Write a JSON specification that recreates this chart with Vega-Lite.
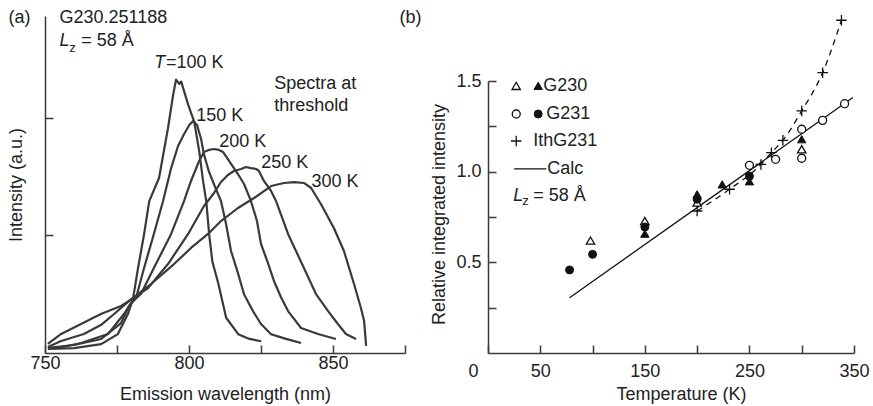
{
  "$schema": "https://vega.github.io/schema/vega-lite/v6.json",
  "background": "white",
  "padding": {"left": 7, "top": 8, "right": 4, "bottom": 4},
  "bounds": "flush",
  "spacing": 83,
  "config": {
    "view": {"stroke": null},
    "font": "Liberation Sans",
    "axis": {
      "grid": false,
      "domainColor": "#3a3a3a",
      "tickColor": "#3a3a3a",
      "domainWidth": 1.5,
      "tickWidth": 1.5,
      "tickSize": -8,
      "labelFont": "Liberation Sans",
      "labelFontSize": 18,
      "labelColor": "#222",
      "labelFlush": false,
      "titleFont": "Liberation Sans",
      "titleFontSize": 18,
      "titleFontWeight": "normal",
      "titleColor": "#222"
    },
    "text": {"font": "Liberation Sans", "fontSize": 18, "color": "#222"}
  },
  "datasets": {
    "spectra": [
      {"T": 100, "wl": 751.0, "I": 0.034}, {"T": 100, "wl": 760.1, "I": 0.042}, {"T": 100, "wl": 769.5, "I": 0.076},
      {"T": 100, "wl": 775.3, "I": 0.161}, {"T": 100, "wl": 778.8, "I": 0.331}, {"T": 100, "wl": 780.6, "I": 0.467},
      {"T": 100, "wl": 782.3, "I": 0.722}, {"T": 100, "wl": 784.4, "I": 1.011}, {"T": 100, "wl": 786.2, "I": 1.292},
      {"T": 100, "wl": 789.6, "I": 1.489}, {"T": 100, "wl": 792.7, "I": 1.913}, {"T": 100, "wl": 794.5, "I": 2.198},
      {"T": 100, "wl": 795.5, "I": 2.326}, {"T": 100, "wl": 796.6, "I": 2.29}, {"T": 100, "wl": 797.3, "I": 2.31},
      {"T": 100, "wl": 799.7, "I": 2.114}, {"T": 100, "wl": 801.8, "I": 1.97}, {"T": 100, "wl": 803.6, "I": 1.71},
      {"T": 100, "wl": 804.9, "I": 1.46}, {"T": 100, "wl": 806.0, "I": 1.29}, {"T": 100, "wl": 807.0, "I": 1.01},
      {"T": 100, "wl": 808.1, "I": 0.78}, {"T": 100, "wl": 810.2, "I": 0.59}, {"T": 100, "wl": 812.9, "I": 0.30},
      {"T": 100, "wl": 817.1, "I": 0.16}, {"T": 100, "wl": 821.0, "I": 0.12}, {"T": 100, "wl": 825.1, "I": 0.10},

      {"T": 150, "wl": 751.0, "I": 0.043}, {"T": 150, "wl": 760.1, "I": 0.068}, {"T": 150, "wl": 769.5, "I": 0.119},
      {"T": 150, "wl": 776.4, "I": 0.255}, {"T": 150, "wl": 779.2, "I": 0.40}, {"T": 150, "wl": 781.6, "I": 0.468},
      {"T": 150, "wl": 784.4, "I": 0.723}, {"T": 150, "wl": 787.8, "I": 1.013}, {"T": 150, "wl": 791.0, "I": 1.294},
      {"T": 150, "wl": 793.8, "I": 1.574}, {"T": 150, "wl": 796.2, "I": 1.762}, {"T": 150, "wl": 798.3, "I": 1.864},
      {"T": 150, "wl": 800.1, "I": 1.94}, {"T": 150, "wl": 801.4, "I": 1.974}, {"T": 150, "wl": 802.8, "I": 1.94},
      {"T": 150, "wl": 804.2, "I": 1.82}, {"T": 150, "wl": 805.2, "I": 1.69}, {"T": 150, "wl": 806.9, "I": 1.545},
      {"T": 150, "wl": 808.7, "I": 1.434}, {"T": 150, "wl": 811.1, "I": 1.294}, {"T": 150, "wl": 812.8, "I": 1.106},
      {"T": 150, "wl": 814.6, "I": 0.868}, {"T": 150, "wl": 817.0, "I": 0.68}, {"T": 150, "wl": 819.1, "I": 0.50},
      {"T": 150, "wl": 822.2, "I": 0.357}, {"T": 150, "wl": 825.0, "I": 0.247}, {"T": 150, "wl": 828.5, "I": 0.16},
      {"T": 150, "wl": 833.7, "I": 0.12}, {"T": 150, "wl": 838.9, "I": 0.085},

      {"T": 200, "wl": 753.1, "I": 0.034}, {"T": 200, "wl": 762.5, "I": 0.085}, {"T": 200, "wl": 771.9, "I": 0.162},
      {"T": 200, "wl": 777.4, "I": 0.332}, {"T": 200, "wl": 779.9, "I": 0.426}, {"T": 200, "wl": 783.3, "I": 0.502},
      {"T": 200, "wl": 787.8, "I": 0.723}, {"T": 200, "wl": 793.8, "I": 1.013}, {"T": 200, "wl": 798.3, "I": 1.294},
      {"T": 200, "wl": 800.7, "I": 1.464}, {"T": 200, "wl": 803.5, "I": 1.634}, {"T": 200, "wl": 805.2, "I": 1.711},
      {"T": 200, "wl": 806.9, "I": 1.728}, {"T": 200, "wl": 808.7, "I": 1.736}, {"T": 200, "wl": 810.4, "I": 1.728},
      {"T": 200, "wl": 811.8, "I": 1.711}, {"T": 200, "wl": 814.6, "I": 1.609}, {"T": 200, "wl": 817.0, "I": 1.523},
      {"T": 200, "wl": 819.1, "I": 1.438}, {"T": 200, "wl": 821.5, "I": 1.294}, {"T": 200, "wl": 823.6, "I": 1.123},
      {"T": 200, "wl": 825.0, "I": 0.928}, {"T": 200, "wl": 827.4, "I": 0.766}, {"T": 200, "wl": 829.5, "I": 0.613},
      {"T": 200, "wl": 831.9, "I": 0.477}, {"T": 200, "wl": 834.4, "I": 0.357}, {"T": 200, "wl": 838.9, "I": 0.213},
      {"T": 200, "wl": 844.8, "I": 0.162}, {"T": 200, "wl": 851.0, "I": 0.119},

      {"T": 250, "wl": 751.0, "I": 0.051}, {"T": 250, "wl": 755.6, "I": 0.102}, {"T": 250, "wl": 763.5, "I": 0.162},
      {"T": 250, "wl": 769.4, "I": 0.238}, {"T": 250, "wl": 774.0, "I": 0.332}, {"T": 250, "wl": 779.2, "I": 0.443},
      {"T": 250, "wl": 785.8, "I": 0.553}, {"T": 250, "wl": 792.7, "I": 0.757}, {"T": 250, "wl": 799.7, "I": 1.013},
      {"T": 250, "wl": 805.2, "I": 1.251}, {"T": 250, "wl": 808.7, "I": 1.362}, {"T": 250, "wl": 811.1, "I": 1.455},
      {"T": 250, "wl": 813.5, "I": 1.515}, {"T": 250, "wl": 815.6, "I": 1.549}, {"T": 250, "wl": 818.1, "I": 1.566},
      {"T": 250, "wl": 819.8, "I": 1.583}, {"T": 250, "wl": 821.5, "I": 1.574}, {"T": 250, "wl": 823.3, "I": 1.566},
      {"T": 250, "wl": 824.3, "I": 1.549}, {"T": 250, "wl": 826.0, "I": 1.464}, {"T": 250, "wl": 828.5, "I": 1.379},
      {"T": 250, "wl": 830.2, "I": 1.294}, {"T": 250, "wl": 834.4, "I": 1.013}, {"T": 250, "wl": 839.9, "I": 0.723},
      {"T": 250, "wl": 844.1, "I": 0.502}, {"T": 250, "wl": 848.3, "I": 0.357}, {"T": 250, "wl": 851.7, "I": 0.247},
      {"T": 250, "wl": 854.5, "I": 0.162}, {"T": 250, "wl": 858.0, "I": 0.119},

      {"T": 300, "wl": 751.0, "I": 0.077}, {"T": 300, "wl": 755.6, "I": 0.162}, {"T": 300, "wl": 762.5, "I": 0.247},
      {"T": 300, "wl": 769.4, "I": 0.332}, {"T": 300, "wl": 776.4, "I": 0.40}, {"T": 300, "wl": 779.2, "I": 0.443},
      {"T": 300, "wl": 786.8, "I": 0.587}, {"T": 300, "wl": 794.8, "I": 0.757}, {"T": 300, "wl": 800.7, "I": 0.894},
      {"T": 300, "wl": 806.6, "I": 1.013}, {"T": 300, "wl": 811.1, "I": 1.123}, {"T": 300, "wl": 817.0, "I": 1.234},
      {"T": 300, "wl": 822.6, "I": 1.319}, {"T": 300, "wl": 828.5, "I": 1.421}, {"T": 300, "wl": 833.0, "I": 1.447},
      {"T": 300, "wl": 836.5, "I": 1.455}, {"T": 300, "wl": 839.9, "I": 1.447}, {"T": 300, "wl": 842.4, "I": 1.404},
      {"T": 300, "wl": 845.8, "I": 1.268}, {"T": 300, "wl": 850.3, "I": 1.064}, {"T": 300, "wl": 853.8, "I": 0.868},
      {"T": 300, "wl": 857.3, "I": 0.587}, {"T": 300, "wl": 859.7, "I": 0.383}, {"T": 300, "wl": 860.8, "I": 0.272},
      {"T": 300, "wl": 861.5, "I": 0.06}
    ],
    "textA": [
      {"kind": "normal", "t": "(a)", "wl": 737.3, "I": 2.851},
      {"kind": "normal", "t": "G230.251188", "wl": 755.0, "I": 2.851},
      {"kind": "italic", "t": "L", "wl": 755.0, "I": 2.655},
      {"kind": "sub", "t": "z", "wl": 758.4, "I": 2.596},
      {"kind": "normal", "t": "= 58 Å", "wl": 762.6, "I": 2.655},
      {"kind": "italic", "t": "T", "wl": 787.9, "I": 2.468},
      {"kind": "normal", "t": "=100 K", "wl": 792.0, "I": 2.468},
      {"kind": "normal", "t": "Spectra at", "wl": 829.6, "I": 2.289},
      {"kind": "normal", "t": "threshold", "wl": 829.6, "I": 2.102},
      {"kind": "normal", "t": "150 K", "wl": 802.5, "I": 2.017},
      {"kind": "normal", "t": "200 K", "wl": 810.5, "I": 1.796},
      {"kind": "normal", "t": "250 K", "wl": 825.1, "I": 1.617},
      {"kind": "normal", "t": "300 K", "wl": 842.5, "I": 1.455}
    ],
    "pts": [
      {"s": "G230o", "T": 98, "v": 0.62}, {"s": "G230o", "T": 150, "v": 0.728}, {"s": "G230o", "T": 200, "v": 0.83}, {"s": "G230o", "T": 300, "v": 1.124},
      {"s": "G230f", "T": 150, "v": 0.658}, {"s": "G230f", "T": 200, "v": 0.875}, {"s": "G230f", "T": 224, "v": 0.93}, {"s": "G230f", "T": 250, "v": 0.947}, {"s": "G230f", "T": 300, "v": 1.179},
      {"s": "G231o", "T": 250, "v": 1.035}, {"s": "G231o", "T": 275, "v": 1.068}, {"s": "G231o", "T": 300, "v": 1.234}, {"s": "G231o", "T": 300, "v": 1.074}, {"s": "G231o", "T": 320, "v": 1.283}, {"s": "G231o", "T": 341, "v": 1.375},
      {"s": "G231f", "T": 78, "v": 0.458}, {"s": "G231f", "T": 100, "v": 0.544}, {"s": "G231f", "T": 150, "v": 0.695}, {"s": "G231f", "T": 200, "v": 0.848}, {"s": "G231f", "T": 250, "v": 0.975},
      {"s": "Ith", "T": 200, "v": 0.783}, {"s": "Ith", "T": 231, "v": 0.903}, {"s": "Ith", "T": 261, "v": 1.04}, {"s": "Ith", "T": 271, "v": 1.105}, {"s": "Ith", "T": 282, "v": 1.173}, {"s": "Ith", "T": 300, "v": 1.335}, {"s": "Ith", "T": 320, "v": 1.546}, {"s": "Ith", "T": 338, "v": 1.835},
      {"s": "G230o", "T": 27, "v": 1.473}, {"s": "G230f", "T": 48, "v": 1.473},
      {"s": "G231o", "T": 27, "v": 1.318}, {"s": "G231f", "T": 48, "v": 1.318},
      {"s": "Ith", "T": 27, "v": 1.169}
    ],
    "calc": [
      {"g": "fit", "T": 78, "v": 0.305}, {"g": "fit", "T": 349, "v": 1.409},
      {"g": "key", "T": 25, "v": 1.015}, {"g": "key", "T": 55.7, "v": 1.015}
    ],
    "ithFit": [
      {"T": 200, "v": 0.783}, {"T": 231, "v": 0.903}, {"T": 261, "v": 1.04}, {"T": 271, "v": 1.105},
      {"T": 282, "v": 1.173}, {"T": 300, "v": 1.335}, {"T": 320, "v": 1.546}, {"T": 338, "v": 1.835}
    ],
    "textB": [
      {"kind": "normal", "t": "(b)", "T": -84.7, "v": 1.848},
      {"kind": "normal", "t": "G230", "T": 52.9, "v": 1.473},
      {"kind": "normal", "t": "G231", "T": 55.7, "v": 1.318},
      {"kind": "normal", "t": "IthG231", "T": 43.3, "v": 1.169},
      {"kind": "normal", "t": "Calc", "T": 56.7, "v": 1.015},
      {"kind": "italic", "t": "L", "T": 24.2, "v": 0.866},
      {"kind": "sub", "t": "z", "T": 32.8, "v": 0.836},
      {"kind": "normal", "t": "= 58 Å", "T": 43.3, "v": 0.866}
    ]
  },
  "hconcat": [
    {
      "width": 360,
      "height": 337,
      "layer": [
        {
          "data": {"name": "spectra"},
          "mark": {"type": "line", "stroke": "#3a3a3a", "strokeWidth": 2.2, "strokeJoin": "round"},
          "encoding": {
            "x": {
              "field": "wl", "type": "quantitative",
              "scale": {"domain": [750, 875], "nice": false, "zero": false},
              "axis": {
                "values": [750, 775, 800, 825, 850, 875],
                "labelExpr": "datum.value % 50 == 0 ? datum.label : ''",
                "labelPadding": 9,
                "title": "Emission wavelength (nm)",
                "titlePadding": 13
              }
            },
            "y": {
              "field": "I", "type": "quantitative",
              "scale": {"domain": [0, 2.868], "nice": false},
              "axis": {"values": [1, 2], "labels": false, "title": "Intensity (a.u.)", "titlePadding": 19}
            },
            "detail": {"field": "T", "type": "nominal"}
          }
        },
        {
          "data": {"name": "textA"},
          "transform": [{"filter": "datum.kind == 'normal'"}],
          "mark": {"type": "text", "align": "left", "baseline": "middle"},
          "encoding": {
            "x": {"field": "wl", "type": "quantitative"},
            "y": {"field": "I", "type": "quantitative"},
            "text": {"field": "t"}
          }
        },
        {
          "data": {"name": "textA"},
          "transform": [{"filter": "datum.kind == 'italic'"}],
          "mark": {"type": "text", "align": "left", "baseline": "middle", "fontStyle": "italic"},
          "encoding": {
            "x": {"field": "wl", "type": "quantitative"},
            "y": {"field": "I", "type": "quantitative"},
            "text": {"field": "t"}
          }
        },
        {
          "data": {"name": "textA"},
          "transform": [{"filter": "datum.kind == 'sub'"}],
          "mark": {"type": "text", "align": "left", "baseline": "middle", "fontSize": 13},
          "encoding": {
            "x": {"field": "wl", "type": "quantitative"},
            "y": {"field": "I", "type": "quantitative"},
            "text": {"field": "t"}
          }
        }
      ]
    },
    {
      "width": 366,
      "height": 337,
      "layer": [
        {
          "data": {"name": "calc"},
          "mark": {"type": "line", "stroke": "#111", "strokeWidth": 1.3},
          "encoding": {
            "x": {
              "field": "T", "type": "quantitative",
              "scale": {"domain": [0, 350], "nice": false},
              "axis": {
                "values": [0, 50, 100, 150, 200, 250, 300, 350],
                "labelExpr": "datum.value == 100 || datum.value == 200 || datum.value == 300 ? '' : datum.label",
                "labelOffset": {"condition": {"test": "datum.value == 0", "value": -15}, "value": 0},
                "labelPadding": 17,
                "title": "Temperature (K)",
                "titleX": 193,
                "titlePadding": 5
              }
            },
            "y": {
              "field": "v", "type": "quantitative",
              "scale": {"domain": [0, 1.5], "range": [337, 65], "nice": false},
              "axis": {
                "values": [0.25, 0.5, 0.75, 1, 1.25, 1.5],
                "labelExpr": "datum.value == 0.5 || datum.value == 1 || datum.value == 1.5 ? format(datum.value, '.1f') : ''",
                "labelPadding": 15,
                "title": "Relative integrated intensity",
                "titleX": -40,
                "titleY": 198
              }
            },
            "detail": {"field": "g", "type": "nominal"}
          }
        },
        {
          "data": {"name": "ithFit"},
          "mark": {"type": "line", "stroke": "#111", "strokeWidth": 1.3, "strokeDash": [6, 5], "interpolate": "monotone"},
          "encoding": {
            "x": {"field": "T", "type": "quantitative"},
            "y": {"field": "v", "type": "quantitative"}
          }
        },
        {
          "data": {"name": "pts"},
          "transform": [{"filter": "datum.s == 'Ith'"}],
          "mark": {"type": "point", "shape": "M-1,0L1,0M0,-1L0,1", "filled": false, "stroke": "#111", "strokeWidth": 1.3, "size": 110, "opacity": 1},
          "encoding": {
            "x": {"field": "T", "type": "quantitative"},
            "y": {"field": "v", "type": "quantitative"}
          }
        },
        {
          "data": {"name": "pts"},
          "transform": [{"filter": "datum.s == 'G230o'"}],
          "mark": {"type": "point", "shape": "triangle-up", "fill": "white", "stroke": "#111", "strokeWidth": 1.3, "size": 70, "opacity": 1},
          "encoding": {
            "x": {"field": "T", "type": "quantitative"},
            "y": {"field": "v", "type": "quantitative"}
          }
        },
        {
          "data": {"name": "pts"},
          "transform": [{"filter": "datum.s == 'G231o'"}],
          "mark": {"type": "point", "shape": "circle", "fill": "white", "stroke": "#111", "strokeWidth": 1.3, "size": 64, "opacity": 1},
          "encoding": {
            "x": {"field": "T", "type": "quantitative"},
            "y": {"field": "v", "type": "quantitative"}
          }
        },
        {
          "data": {"name": "pts"},
          "transform": [{"filter": "datum.s == 'G231f'"}],
          "mark": {"type": "point", "shape": "circle", "filled": true, "fill": "#111", "stroke": "#111", "strokeWidth": 1, "size": 64, "opacity": 1},
          "encoding": {
            "x": {"field": "T", "type": "quantitative"},
            "y": {"field": "v", "type": "quantitative"}
          }
        },
        {
          "data": {"name": "pts"},
          "transform": [{"filter": "datum.s == 'G230f'"}],
          "mark": {"type": "point", "shape": "triangle-up", "filled": true, "fill": "#111", "stroke": "#111", "strokeWidth": 1, "size": 70, "opacity": 1},
          "encoding": {
            "x": {"field": "T", "type": "quantitative"},
            "y": {"field": "v", "type": "quantitative"}
          }
        },
        {
          "data": {"name": "textB"},
          "transform": [{"filter": "datum.kind == 'normal'"}],
          "mark": {"type": "text", "align": "left", "baseline": "middle"},
          "encoding": {
            "x": {"field": "T", "type": "quantitative"},
            "y": {"field": "v", "type": "quantitative"},
            "text": {"field": "t"}
          }
        },
        {
          "data": {"name": "textB"},
          "transform": [{"filter": "datum.kind == 'italic'"}],
          "mark": {"type": "text", "align": "left", "baseline": "middle", "fontStyle": "italic"},
          "encoding": {
            "x": {"field": "T", "type": "quantitative"},
            "y": {"field": "v", "type": "quantitative"},
            "text": {"field": "t"}
          }
        },
        {
          "data": {"name": "textB"},
          "transform": [{"filter": "datum.kind == 'sub'"}],
          "mark": {"type": "text", "align": "left", "baseline": "middle", "fontSize": 13},
          "encoding": {
            "x": {"field": "T", "type": "quantitative"},
            "y": {"field": "v", "type": "quantitative"},
            "text": {"field": "t"}
          }
        }
      ]
    }
  ]
}
